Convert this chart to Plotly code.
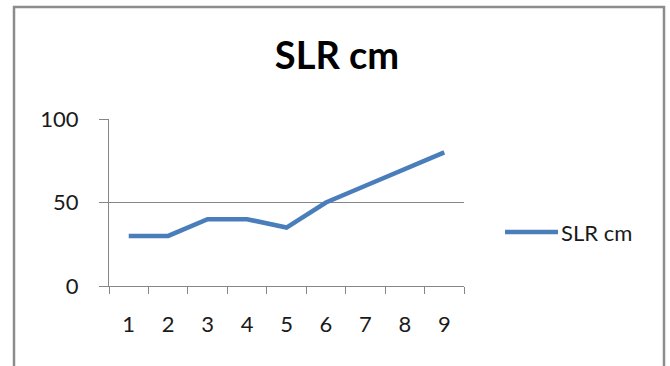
import plotly.graph_objects as go

# Sea level rise series
steps = ["1", "2", "3", "4", "5", "6", "7", "8", "9"]
slr_cm = [30, 30, 40, 40, 35, 50, 60, 70, 80]
series_name = "SLR cm"
title_text = "SLR cm"
y_ticks = [0, 50, 100]

W, H = 670, 366
# plot area in pixels
PL, PR, PT, PB = 109, 464, 119, 286
FONT = "Lato, 'Open Sans', sans-serif"
LINE_BLUE = "#4A7EBB"
GRID = "#868686"
TEXT = "#1a1a1a"


def px_x(x):
    return (x - PL) / (PR - PL)


def px_y(y):
    return (PB - y) / (PB - PT)


fig = go.Figure()
fig.add_trace(go.Scatter(
    x=steps, y=slr_cm, mode="lines", name=series_name,
    line=dict(color=LINE_BLUE, width=4.5),
    showlegend=False,
))

shapes = [
    # chart frame
    dict(type="rect", xref="paper", yref="paper",
         x0=px_x(14), x1=px_x(664), y0=px_y(7), y1=px_y(420),
         line=dict(color="#8c8c8c", width=2.5), layer="below"),
    # legend key
    dict(type="line", xref="paper", yref="paper",
         x0=px_x(505), x1=px_x(558), y0=px_y(232), y1=px_y(232),
         line=dict(color=LINE_BLUE, width=4.5)),
]

fig.update_layout(
    width=W, height=H,
    margin=dict(l=PL, r=W - PR, t=PT, b=H - PB, pad=0),
    paper_bgcolor="white", plot_bgcolor="white",
    font=dict(family=FONT, color=TEXT, size=22),
    title=dict(text="<b>" + title_text + "</b>", x=337 / W, xanchor="center",
               y=1 - 56 / H, yanchor="middle", yref="container",
               font=dict(family=FONT, size=38, color="#000000")),
    xaxis=dict(type="category", range=[-0.5, 8.5], tickson="boundaries",
               ticks="outside", ticklen=7, tickcolor=GRID, tickwidth=1,
               showline=True, linecolor=GRID, linewidth=1,
               showgrid=False, zeroline=False, ticklabelstandoff=19,
               tickfont=dict(size=22, family=FONT, color=TEXT)),
    yaxis=dict(range=[0, 100], tickvals=y_ticks, ticks="outside", ticklen=9,
               tickcolor=GRID, tickwidth=1, showline=True, linecolor=GRID,
               linewidth=1, showgrid=True, gridcolor=GRID, gridwidth=1,
               zeroline=False, ticklabelstandoff=16,
               tickfont=dict(size=22, family=FONT, color=TEXT)),
    shapes=shapes,
    annotations=[dict(text=series_name, xref="paper", yref="paper",
                      x=px_x(559), y=px_y(232), xanchor="left",
                      yanchor="middle", showarrow=False,
                      font=dict(family=FONT, size=22, color=TEXT))],
)

fig.write_html("out.html")
